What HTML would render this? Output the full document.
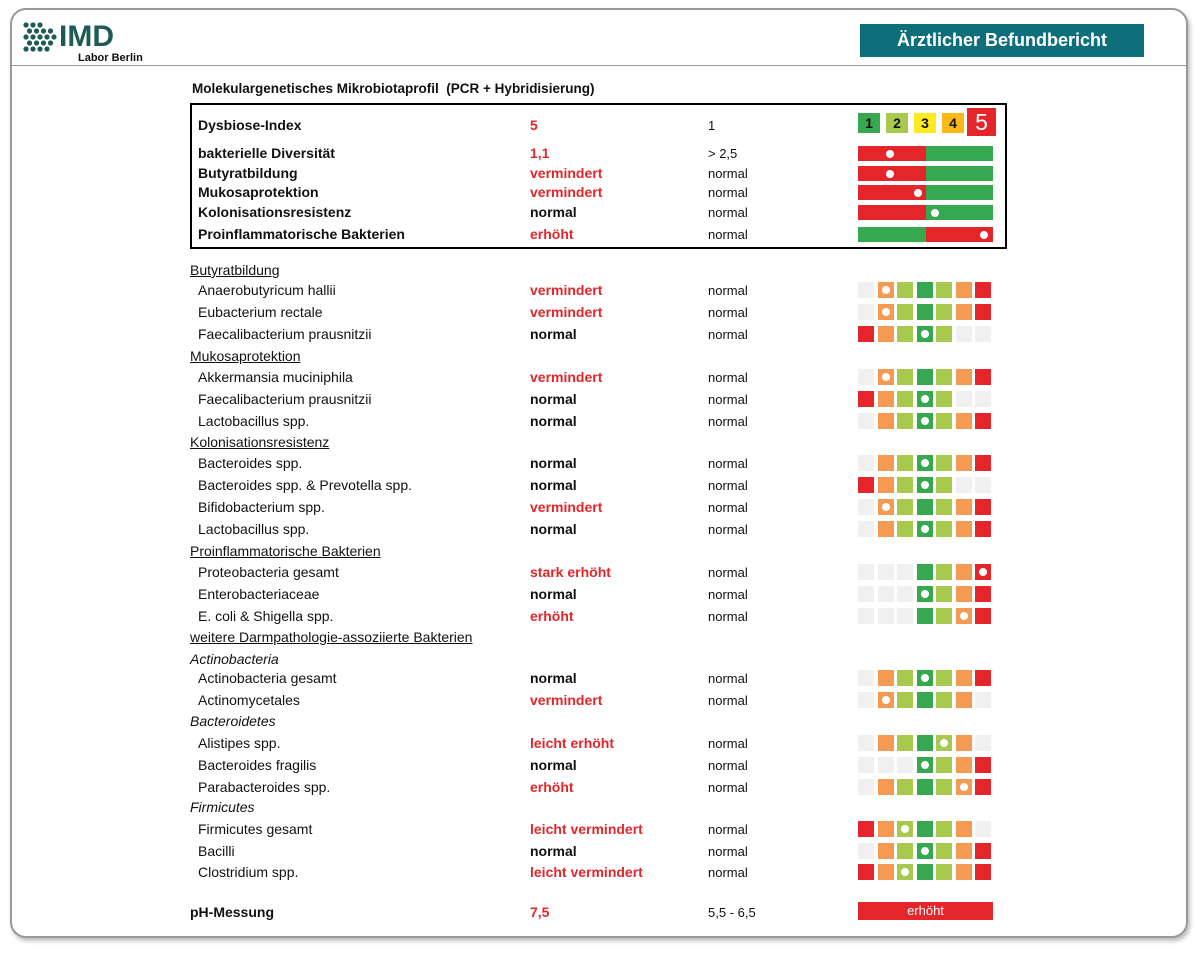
<!DOCTYPE html>
<html><head><meta charset="utf-8"><style>
*{margin:0;padding:0;box-sizing:border-box}
body{width:1200px;height:953px;background:#fff;position:relative;font-family:"Liberation Sans",sans-serif;color:#111;overflow:hidden}
.frame{position:absolute;left:10px;top:8px;width:1178px;height:930px;border:2px solid #999;border-radius:16px;box-shadow:2px 3px 4px #bbb}
.hline{position:absolute;left:11px;top:65px;width:1176px;height:1px;background:#999}
.t{position:absolute;font-size:14px;white-space:nowrap;line-height:16px}
.b{font-weight:bold}.r{color:#e4262b;font-weight:bold}.u{text-decoration:underline}.i{font-style:italic}
.sq{position:absolute;width:16px;height:16px}
.dot{position:absolute;width:8px;height:8px;border-radius:50%;background:#fff}
.bar{position:absolute;height:15px}
</style></head><body>
<div class="frame"></div><div class="hline"></div>
<svg style="position:absolute;left:22px;top:22px" width="36" height="32">
<g fill="#1e5b57">
<circle cx="4" cy="3" r="2.6"/><circle cx="11" cy="3" r="2.6"/><circle cx="18" cy="3" r="2.6"/>
<circle cx="7.5" cy="9" r="2.6"/><circle cx="14.5" cy="9" r="2.6"/><circle cx="21.5" cy="9" r="2.6"/><circle cx="28.5" cy="9" r="2.6"/>
<circle cx="4" cy="15" r="2.6"/><circle cx="11" cy="15" r="2.6"/><circle cx="18" cy="15" r="2.6"/><circle cx="25" cy="15" r="2.6"/><circle cx="32" cy="15" r="2.6"/>
<circle cx="7.5" cy="21" r="2.6"/><circle cx="14.5" cy="21" r="2.6"/><circle cx="21.5" cy="21" r="2.6"/><circle cx="28.5" cy="21" r="2.6"/>
<circle cx="4" cy="27" r="2.6"/><circle cx="11" cy="27" r="2.6"/><circle cx="18" cy="27" r="2.6"/><circle cx="25" cy="27" r="2.6"/>
</g></svg>
<div class="t b" style="left:59px;top:22px;font-size:30px;line-height:30px;color:#1e5b57">IMD</div>
<div class="t b" style="left:78px;top:52px;font-size:11px;line-height:12px">Labor Berlin</div>
<div style="position:absolute;left:860px;top:24px;width:284px;height:33px;background:#0e6f7b;color:#fff;font-weight:bold;font-size:18px;line-height:33px;text-align:center">Ärztlicher Befundbericht</div>
<div class="t b" style="left:192px;top:81px;font-size:13.5px">Molekulargenetisches Mikrobiotaprofil&nbsp; (PCR + Hybridisierung)</div>
<div style="position:absolute;left:190px;top:103px;width:817px;height:146px;border:2px solid #000"></div>
<div id="c"></div>
<script>
(function(){
var c=document.getElementById('c'),h='';
function T(x,y,s,cl,st){h+='<div class="t '+(cl||'')+'" style="left:'+x+'px;top:'+(y-8)+'px;'+(st||'')+'">'+s+'</div>';}
var tb=[["Dysbiose-Index",125,"5","r","1"],["bakterielle Diversität",153,"1,1","r","&gt; 2,5"],["Butyratbildung",173,"vermindert","r","normal"],["Mukosaprotektion",192,"vermindert","r","normal"],["Kolonisationsresistenz",212,"normal","b","normal"],["Proinflammatorische Bakterien",234,"erhöht","r","normal"]];
tb.forEach(function(r){T(198,r[1],r[0],'b');T(530,r[1],r[2],r[3]);T(708,r[1]+1,r[4],'',"font-size:13px");});
var ic=["#36a84f","#a6c94e","#ffea1f","#fbb817"];
ic.forEach(function(k,i){h+='<div style="position:absolute;left:'+(858+i*28)+'px;top:113px;width:22px;height:20px;background:'+k+';font-weight:bold;font-size:14px;line-height:20px;text-align:center">'+(i+1)+'</div>';});
h+='<div style="position:absolute;left:967px;top:108px;width:29px;height:28px;background:#e4262b;color:#fff;font-size:23px;line-height:28px;text-align:center">5</div>';
var bars=[[153,0,890],[173,0,890],[192,0,918],[212,0,935],[234,1,984]];
bars.forEach(function(b){var a=b[1]?"#36a84f":"#e4262b",z=b[1]?"#e4262b":"#36a84f";
h+='<div class="bar" style="left:858px;top:'+(b[0]-7)+'px;width:68px;background:'+a+'"></div><div class="bar" style="left:926px;top:'+(b[0]-7)+'px;width:67px;background:'+z+'"></div><div class="dot" style="left:'+(b[2]-4)+'px;top:'+(b[0]-3)+'px"></div>';});
var C={g:"#f0f0f0",O:"#f59a52",L:"#a6c94e",G:"#36a84f",R:"#e4262b"};
var rows=[
["H","Butyratbildung",270],
["Anaerobutyricum hallii",290,"vermindert","gOLGLOR",1],
["Eubacterium rectale",312,"vermindert","gOLGLOR",1],
["Faecalibacterium prausnitzii",334,"normal","ROLGLgg",3],
["H","Mukosaprotektion",356],
["Akkermansia muciniphila",377,"vermindert","gOLGLOR",1],
["Faecalibacterium prausnitzii",399,"normal","ROLGLgg",3],
["Lactobacillus spp.",421,"normal","gOLGLOR",3],
["H","Kolonisationsresistenz",442],
["Bacteroides spp.",463,"normal","gOLGLOR",3],
["Bacteroides spp. &amp; Prevotella spp.",485,"normal","ROLGLgg",3],
["Bifidobacterium spp.",507,"vermindert","gOLGLOR",1],
["Lactobacillus spp.",529,"normal","gOLGLOR",3],
["H","Proinflammatorische Bakterien",551],
["Proteobacteria gesamt",572,"stark erhöht","gggGLOR",6],
["Enterobacteriaceae",594,"normal","gggGLOR",3],
["E. coli &amp; Shigella spp.",616,"erhöht","gggGLOR",5],
["H","weitere Darmpathologie-assoziierte Bakterien",637],
["I","Actinobacteria",659],
["Actinobacteria gesamt",678,"normal","gOLGLOR",3],
["Actinomycetales",700,"vermindert","gOLGLOg",1],
["I","Bacteroidetes",721],
["Alistipes spp.",743,"leicht erhöht","gOLGLOg",4],
["Bacteroides fragilis",765,"normal","gggGLOR",3],
["Parabacteroides spp.",787,"erhöht","gOLGLOR",5],
["I","Firmicutes",807],
["Firmicutes gesamt",829,"leicht vermindert","ROLGLOg",2],
["Bacilli",851,"normal","gOLGLOR",3],
["Clostridium spp.",872,"leicht vermindert","ROLGLOR",2]];
rows.forEach(function(r){
 if(r[0]=="H"){T(190,r[2],r[1],'u');return;}
 if(r[0]=="I"){T(190,r[2],r[1],'i');return;}
 T(198,r[1],r[0]);T(530,r[1],r[2],r[2]=="normal"?'b':'r');T(708,r[1]+1,"normal",'',"font-size:13px");
 for(var i=0;i<7;i++){var x=858+i*19.5;h+='<div class="sq" style="left:'+x+'px;top:'+(r[1]-8)+'px;background:'+C[r[3][i]]+'"></div>';
  if(i==r[4])h+='<div class="dot" style="left:'+(x+4)+'px;top:'+(r[1]-4)+'px"></div>';}
});
T(190,912,"pH-Messung",'b');T(530,912,"7,5",'r');T(708,913,"5,5 - 6,5",'',"font-size:13px");
h+='<div style="position:absolute;left:858px;top:902px;width:135px;height:18px;background:#e4262b;color:#fff;font-size:13px;line-height:18px;text-align:center">erhöht</div>';
c.innerHTML=h;
})();
</script>
</body></html>
